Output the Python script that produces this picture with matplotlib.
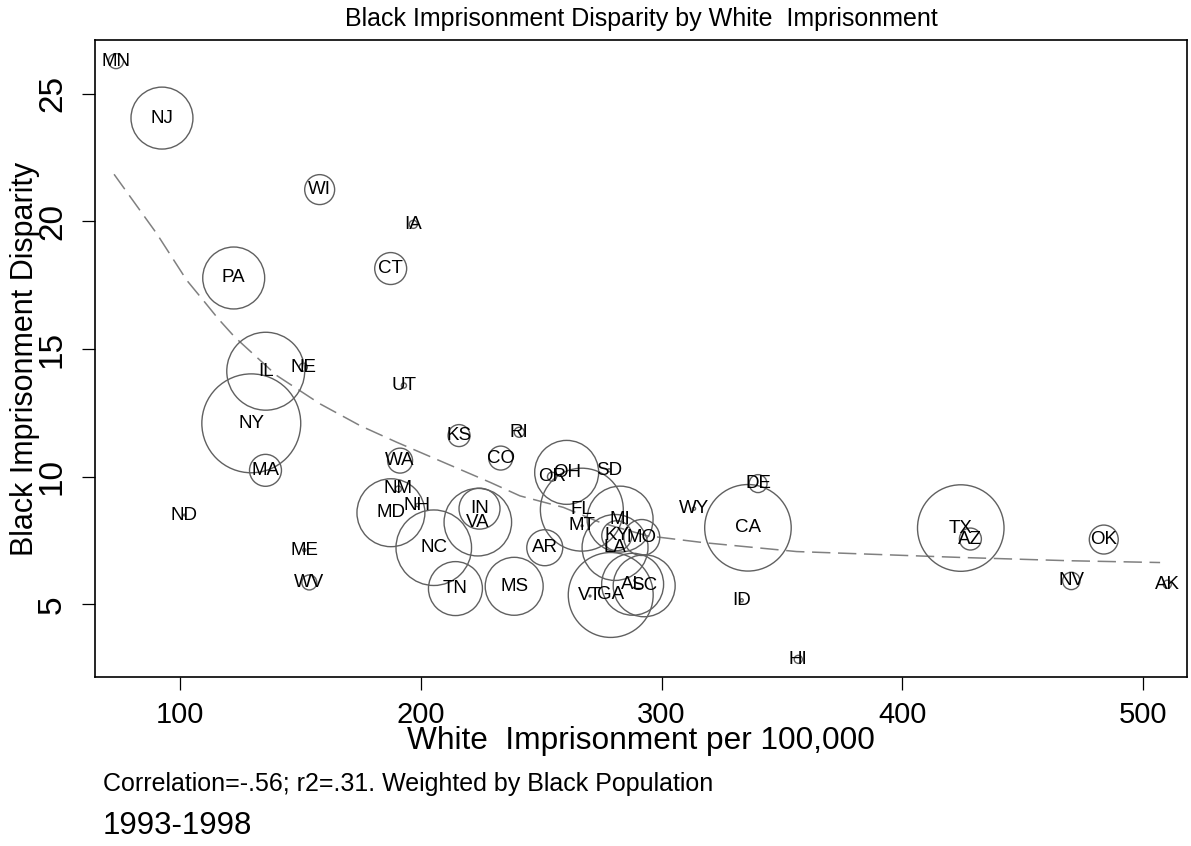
import matplotlib
matplotlib.use("Agg")
import matplotlib.pyplot as plt
import numpy as np

plt.rcParams['font.family'] = ['Liberation Sans', 'DejaVu Sans']

# state, white imprisonment per 100k, black disparity, black population (thousands)
states = ['MN', 'NJ', 'PA', 'WI', 'IA', 'CT', 'IL', 'NE', 'NY', 'UT',
          'WA', 'CO', 'NM', 'NH', 'MD', 'IN', 'VA', 'NC', 'TN', 'MS',
          'AR', 'OH', 'FL', 'MI', 'LA', 'KY', 'MO', 'GA', 'AL', 'SC',
          'OR', 'SD', 'MT', 'VT', 'RI', 'KS', 'WY', 'CA', 'DE', 'ID',
          'HI', 'TX', 'AZ', 'OK', 'NV', 'AK', 'ND', 'ME', 'WV', 'MA']
white_rate = [73.4, 92.5, 122.3, 158.0, 196.9, 187.5, 135.6, 151.2, 129.6, 193.0,
              191.4, 233.2, 190.7, 198.6, 187.6, 224.4, 223.7, 205.4, 214.4, 238.8,
              251.5, 260.6, 266.9, 282.8, 280.7, 281.4, 291.8, 278.9, 288.0, 292.8,
              254.5, 278.2, 267.0, 270.3, 240.9, 215.9, 313.5, 335.9, 340.1, 333.3,
              356.8, 424.3, 428.3, 483.7, 470.2, 510.1, 101.8, 151.6, 153.7, 135.5]
disparity = [26.27, 24.04, 17.78, 21.24, 19.88, 18.15, 14.13, 14.29, 12.09, 13.57,
             10.63, 10.73, 9.52, 8.89, 8.59, 8.75, 8.22, 7.22, 5.62, 5.71,
             7.22, 10.17, 8.71, 8.34, 7.23, 7.69, 7.62, 5.37, 5.79, 5.73,
             10.00, 10.25, 8.08, 5.33, 11.74, 11.61, 8.75, 8.00, 9.73, 5.16,
             2.85, 7.99, 7.56, 7.54, 5.92, 5.79, 8.50, 7.13, 5.86, 10.25]
black_pop = [69, 1177, 1177, 275, 20, 313, 1862, 20, 3000, 8,
             191, 176, 11, 3, 1415, 515, 1399, 1750, 893, 1030,
             397, 1254, 2109, 1333, 1333, 275, 397, 2211, 1177, 1177,
             25, 3, 1, 1, 31, 148, 3, 2296, 99, 3,
             20, 2296, 148, 257, 93, 20, 1, 3, 69, 313]

# lowess smooth
smooth_x = [72.6, 90.3, 102.8, 109.7, 115.9, 122.8, 140.2, 158.2, 174.8, 190.0,
            228.8, 241.2, 259.2, 274.5, 293.9, 317.4, 356.1, 424.0, 469.7, 507.1]
smooth_y = [21.84, 19.52, 17.69, 16.9, 16.18, 15.46, 13.96, 12.85, 12.0, 11.35,
            9.78, 9.25, 8.80, 8.21, 7.69, 7.42, 7.07, 6.84, 6.71, 6.64]

fig = plt.figure(figsize=(11.91, 8.46), dpi=100)
ax = fig.add_axes([0.0798, 0.1998, 0.9169, 0.7530])

sizes = np.array(black_pop) * 1.69
ax.scatter(white_rate, disparity, s=sizes, facecolors='none',
           edgecolors='#606060', linewidths=1.0, zorder=2)
for st, x, y in zip(states, white_rate, disparity):
    ax.text(x, y, st, ha='center', va='center', fontsize=13.5, color='black', zorder=3)

ax.plot(smooth_x, smooth_y, color='#808080', lw=1.1, dashes=(12, 5), zorder=1)

ax.set_xlim(64.7, 518.3)
ax.set_ylim(2.16, 27.1)
ax.set_xticks([100, 200, 300, 400, 500])
ax.set_yticks([5, 10, 15, 20, 25])
ax.tick_params(axis='both', direction='out', length=9.5, width=0.9, pad=8)
ax.tick_params(axis='x', labelsize=21)
ax.tick_params(axis='y', labelsize=24, pad=10)
for lab in ax.get_yticklabels():
    lab.set_rotation(90)
    lab.set_va('center')
for sp in ax.spines.values():
    sp.set_linewidth(1.2)

ax.set_xlabel('White  Imprisonment per 100,000', fontsize=22.8, labelpad=-2)
ax.set_ylabel('Black Imprisonment Disparity', fontsize=22)
ax.yaxis.set_label_coords(-0.0505, 0.5)

fig.text(0.5386, 1 - 19 / 846, 'Black Imprisonment Disparity by White  Imprisonment',
         ha='center', va='center', fontsize=18)
fig.text(0.0865, 1 - 784 / 846, 'Correlation=-.56; r2=.31. Weighted by Black Population',
         ha='left', va='center', fontsize=18)
fig.text(0.0865, 1 - 826 / 846, '1993-1998', ha='left', va='center', fontsize=22.5)

fig.savefig('out.png', dpi=100)
